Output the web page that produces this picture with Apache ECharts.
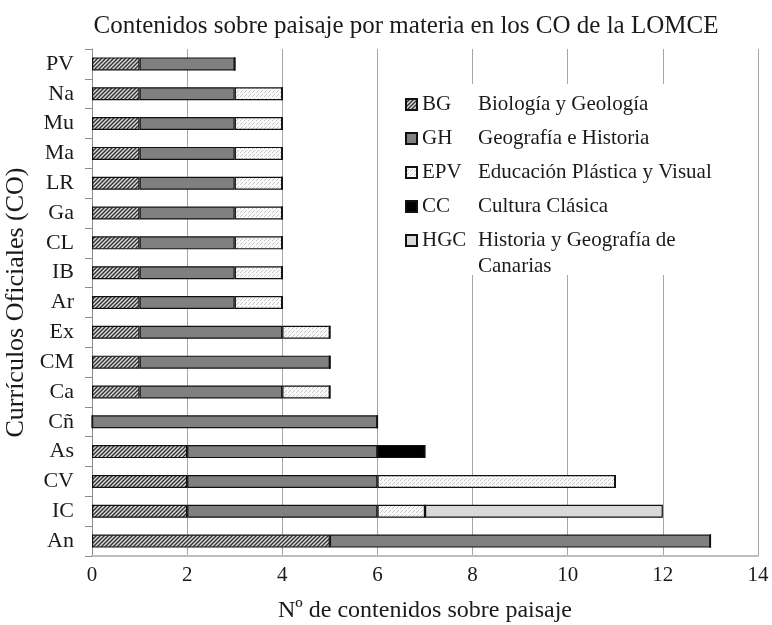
<!DOCTYPE html>
<html>
<head>
<meta charset="utf-8">
<script src="https://cdn.jsdelivr.net/npm/echarts@6/dist/echarts.min.js"></script>
<style>
  html, body { margin: 0; padding: 0; background: #fff; }
  #chart { width: 772px; height: 625px; }
</style>
</head>
<body>
<div id="chart"></div>
<script>
// datos
const categories = ['PV', 'Na', 'Mu', 'Ma', 'LR', 'Ga', 'CL', 'IB', 'Ar', 'Ex', 'CM', 'Ca', 'Cñ', 'As', 'CV', 'IC', 'An'];
const bgData  = [1, 1, 1, 1, 1, 1, 1, 1, 1, 1, 1, 1, 0, 2, 2, 2, 5];
const ghData  = [2, 2, 2, 2, 2, 2, 2, 2, 2, 3, 4, 3, 6, 4, 4, 4, 8];
const epvData = [0, 1, 1, 1, 1, 1, 1, 1, 1, 1, 0, 1, 0, 0, 5, 1, 0];
const ccData  = [0, 0, 0, 0, 0, 0, 0, 0, 0, 0, 0, 0, 0, 1, 0, 0, 0];
const hgcData = [0, 0, 0, 0, 0, 0, 0, 0, 0, 0, 0, 0, 0, 0, 0, 5, 0];
const xTicks = [0, 2, 4, 6, 8, 10, 12, 14];

const legendNames = {
  BG: 'Biología y Geología',
  GH: 'Geografía e Historia',
  EPV: 'Educación Plástica y Visual',
  CC: 'Cultura Clásica',
  HGC: 'Historia y Geografía de'
};
const hgcSecondLine = 'Canarias';

const serif = '"Liberation Serif", "DejaVu Serif", serif';
const ink = '#1a1a1a';

// tramas
const hatchPattern = () => {
  let c = document.createElement('canvas');
  c.width = 4; c.height = 4;
  let ctx = c.getContext('2d');
  ctx.fillStyle = '#d8d8d8';
  ctx.fillRect(0, 0, 4, 4);
  ctx.strokeStyle = '#2e2e2e';
  ctx.lineWidth = 1.3;
  ctx.beginPath();
  ctx.moveTo(-1, 5); ctx.lineTo(5, -1);
  ctx.moveTo(-1, 1); ctx.lineTo(1, -1);
  ctx.moveTo(3, 5); ctx.lineTo(5, 3);
  ctx.stroke();
  return c;
}
const dotPattern = () => {
  let c = document.createElement('canvas');
  c.width = 4; c.height = 4;
  let ctx = c.getContext('2d');
  ctx.fillStyle = '#f8f8f8';
  ctx.fillRect(0, 0, 4, 4);
  ctx.fillStyle = '#c8c8c8';
  ctx.fillRect(0, 0, 1, 1);
  ctx.fillRect(2, 2, 1, 1);
  ctx.fillRect(1, 3, 1, 1);
  return c;
}

const mkSeries = (name, data, color) => ({
  name: name,
  type: 'bar',
  stack: 'total',
  barWidth: 13,
  data: data,
  itemStyle: { color: color, borderColor: '#111', borderWidth: 1.2 }
})

let chartDom = document.getElementById('chart')
let myChart = echarts.init(chartDom)

let option = {
  backgroundColor: '#fff',
  animation: false,
  title: {
    text: 'Contenidos sobre paisaje por materia en los CO de la LOMCE',
    left: 401,
    textAlign: 'center',
    top: 9,
    textStyle: { fontFamily: serif, fontSize: 25, fontWeight: 'normal', color: ink }
  },
  grid: { left: 92, right: 14, top: 49, bottom: 69, outerBoundsMode: 'none', containLabel: false },
  legend: {
    orient: 'vertical',
    left: 395,
    top: 84,
    backgroundColor: '#fff',
    padding: [10, 12, 24, 10],
    itemGap: 13,
    itemWidth: 11,
    itemHeight: 11,
    icon: 'rect',
    data: ['BG', 'GH', 'EPV', 'CC', 'HGC'],
    formatter: (name) => '{a|' + name + '}{b|' + legendNames[name] + '}',
    textStyle: {
      fontFamily: serif, fontSize: 21, color: ink,
      rich: {
        a: { width: 56, fontFamily: serif, fontSize: 21, color: ink, lineHeight: 23 },
        b: { fontFamily: serif, fontSize: 21, color: ink, lineHeight: 23 }
      }
    }
  },
  graphic: [
    {
      type: 'text',
      left: 478,
      top: 256,
      z: 100,
      style: { text: hgcSecondLine, font: '21px ' + serif, fill: ink }
    }
  ],
  xAxis: {
    type: 'value',
    min: 0,
    max: 14,
    interval: 2,
    name: 'Nº de contenidos sobre paisaje',
    nameLocation: 'middle',
    nameGap: 43,
    nameTextStyle: { fontFamily: serif, fontSize: 24, color: ink },
    axisLine: { show: true, lineStyle: { color: '#bdbdbd', width: 2 } },
    axisTick: { show: false },
    axisLabel: {
      fontFamily: serif, fontSize: 21, color: ink, margin: 9,
      formatter: (v) => xTicks.includes(v) ? String(v) : ''
    },
    splitLine: { show: true, lineStyle: { color: '#a6a6a6', width: 1 } }
  },
  yAxis: {
    type: 'category',
    inverse: true,
    data: categories,
    name: 'Currículos Oficiales (CO)',
    nameLocation: 'middle',
    nameGap: 61,
    nameTextStyle: { fontFamily: serif, fontSize: 26, color: ink },
    axisLine: { show: true, lineStyle: { color: '#8c8c8c', width: 1 } },
    axisTick: { show: true, length: 7, lineStyle: { color: '#8c8c8c' } },
    axisLabel: { fontFamily: serif, fontSize: 22, color: ink, margin: 18 }
  },
  series: [
    mkSeries('BG', bgData, { image: hatchPattern(), repeat: 'repeat' }),
    mkSeries('GH', ghData, '#808080'),
    mkSeries('EPV', epvData, { image: dotPattern(), repeat: 'repeat' }),
    mkSeries('CC', ccData, '#000000'),
    mkSeries('HGC', hgcData, '#d9d9d9')
  ]
}
myChart.setOption(option)
</script>
</body>
</html>
